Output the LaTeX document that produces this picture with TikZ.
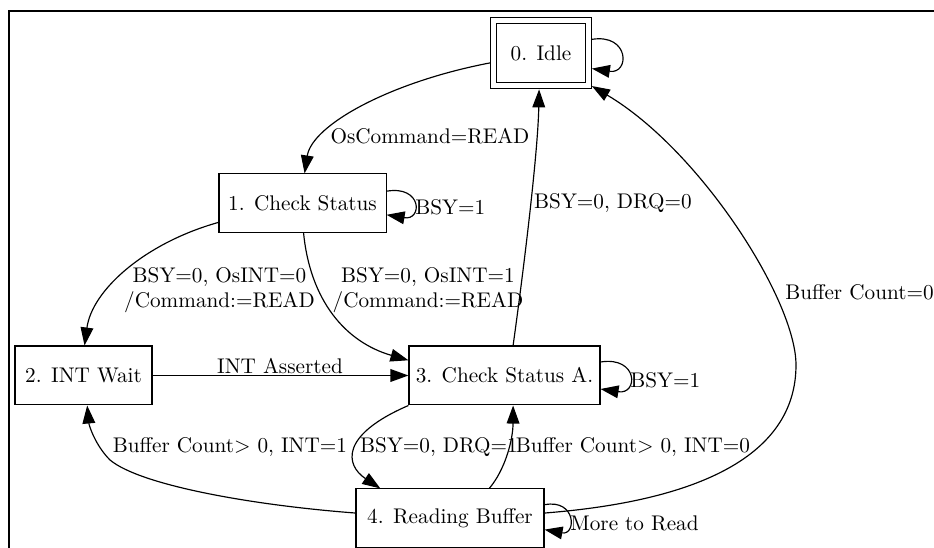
\documentclass[tikz,border=0pt]{standalone}
\usetikzlibrary{arrows.meta}
\begin{document}
\begin{tikzpicture}[x=0.4717pt,y=-0.4717pt,
  state/.style={draw, line width=0.5pt, inner sep=0pt, font=\normalsize},
  edge/.style={draw, line width=0.55pt, -{Triangle[length=8.5pt,width=6pt]}},
  lbl/.style={inner sep=0pt, font=\normalsize}]
\useasboundingbox (0,0) rectangle (934,548);
\draw[line width=0.9pt] (934,11) -- (9,11) -- (9,548);

% states
\node[state, double, double distance=2.33pt, outer sep=1.7pt,
      minimum width=44.6pt, minimum height=30.9pt] (idle) at (541,53) {0. Idle};
\node[state, minimum width=78.8pt, minimum height=27.4pt] (cs) at (302.5,203) {1. Check Status};
\node[state, minimum width=64.6pt, minimum height=27.8pt] (intw) at (83.5,375.5) {2. INT Wait};
\node[state, minimum width=90.1pt, minimum height=27.8pt] (csa) at (504.5,375.5) {3. Check Status A.};
\node[state, minimum width=88.7pt, minimum height=27.4pt] (rb) at (450,518) {4. Reading Buffer};

% self loops
\draw[edge] (idle.15) .. controls +(38,-6) and +(38,6) .. (idle.-17);
\draw[edge] (cs.8) .. controls +(36,-6) and +(36,6) .. (cs.-8);
\node[lbl, anchor=west] (lcs) at (415,207) {BSY=1};
\draw[edge] (csa.8) .. controls +(38,-6) and +(38,6) .. (csa.-8);
\node[lbl, anchor=west] (lcsa) at (630,380) {BSY=1};
\draw[edge] (rb.8) .. controls +(32,-6) and +(32,6) .. (rb.-7);
\node[lbl, anchor=west] (lrb) at (570,523) {More to Read};

% transitions
\draw[edge] (idle.191) .. controls (390,82) and (312,125) .. (cs.86);
\node[lbl] (l01) at (430,136) {OsCommand=READ};

\draw[edge] (cs.193) .. controls (145,243) and (92,290) .. (intw.88);
\node[lbl, align=center] (l12) at (219.5,290) {BSY=0, OsINT=0\\/Command:=READ};

\draw[edge] (cs.-88) .. controls (310,300) and (345,342) .. (csa.171);
\node[lbl, align=center] (l13) at (428,290) {BSY=0, OsINT=1\\/Command:=READ};

\draw[edge] (intw) -- (csa);
\node[lbl] (l23) at (280,366) {INT Asserted};

\draw[edge] (csa.74) .. controls (525,260) and (538,150) .. (idle.267);
\node[lbl] (l30) at (613,203) {BSY=0, DRQ=0};

\draw[edge] (rb.3) .. controls (710,500) and (796,450) .. (796,365)
             .. controls (796,300) and (700,150) .. (idle.-33);
\node[lbl] (l40) at (859.5,292) {Buffer Count=0};

\draw[edge] (csa.south west) .. controls (340,435) and (345,465) .. (rb.157);
\node[lbl] (l34) at (439,447) {BSY=0, DRQ=1};

\draw[edge] (rb.37) .. controls (505,470) and (513,440) .. (csa.-74);
\node[lbl] (l43) at (633,447) {Buffer Count$>$ 0, INT=0};

\draw[edge] (rb.177) .. controls (250,505) and (140,485) .. (110,460)
             .. controls (95,445) and (89,425) .. (intw.-83);
\node[lbl] (l42) at (230,447) {Buffer Count$>$ 0, INT=1};
\end{tikzpicture}
\end{document}
